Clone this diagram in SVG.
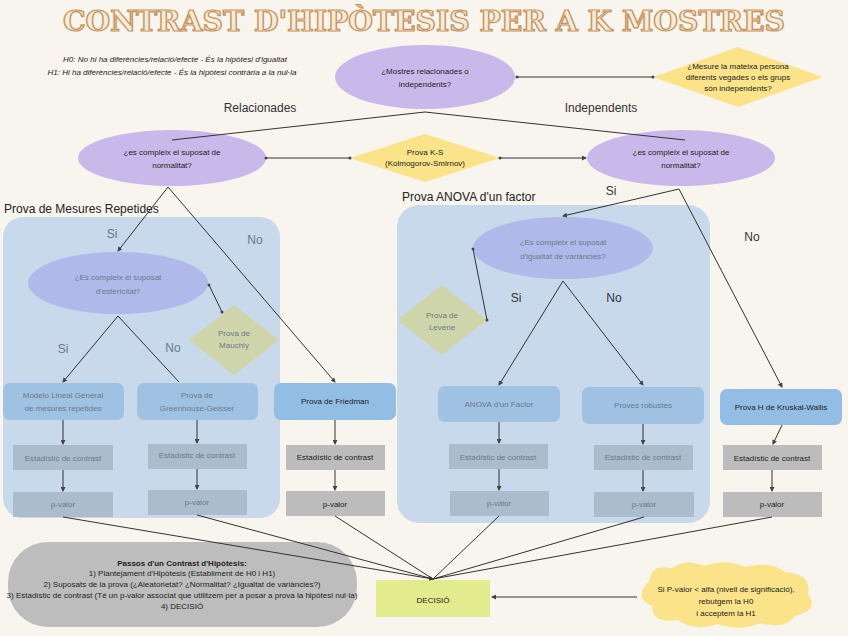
<svg xmlns="http://www.w3.org/2000/svg" width="848" height="636" viewBox="0 0 848 636">
<defs>
<marker id="ar" markerWidth="5" markerHeight="5" refX="4" refY="2.5" orient="auto"><path d="M0,0 L5,2.5 L0,5 z" fill="#444"/></marker>
<marker id="dot" markerWidth="4" markerHeight="4" refX="2" refY="2"><circle cx="2" cy="2" r="1.5" fill="#444"/></marker>
<style>
text{font-family:"Liberation Sans",Arial,sans-serif;text-anchor:middle}
.title{font-family:"DejaVu Serif Condensed","DejaVu Serif",serif}
.c line,.c path{stroke:#333;stroke-width:1;fill:none}
.s{font-size:8px;fill:#222}
.f{font-size:8px;fill:#6a7a8c}
.lab{font-size:12px;fill:#222;text-anchor:start}
.yn{font-size:12px;fill:#333}
.fyn{font-size:12px;fill:#6a7a8c}
.box{fill:#92bde4}
.fbox{fill:#9fc1e2}
.gray{fill:#bcbcbc}
.fgray{fill:#abbccc}
</style>
</defs>
<rect width="848" height="636" fill="#f8f4ee"/>
<text x="424" y="31" class="title" font-weight="bold" font-size="27" fill="#f3ecd8" stroke="#c9935b" stroke-width="1.2" textLength="722" lengthAdjust="spacingAndGlyphs">CONTRAST D'HIPÒTESIS PER A K MOSTRES</text>
<g id="hyp" font-style="italic"><text x="175" y="62" class="s" font-size="9">H0:  No hi ha diferències/relació/efecte - És la hipòtesi d'igualtat</text><text x="172" y="75" class="s" font-size="9">H1: Hi ha diferències/relació/efecte - És la hipòtesi contrària a la nul·la</text></g>
<rect x="3" y="217" width="277" height="301" rx="20" fill="#c7d9ea"/>
<rect x="397" y="205" width="313" height="318" rx="22" fill="#c7d9ea"/>
<text x="4" y="213" class="lab">Prova de Mesures Repetides</text>
<text x="402" y="201" class="lab">Prova ANOVA d'un factor</text>
<g id="q1"><ellipse cx="425" cy="77" rx="90" ry="32" fill="#c9b8ea"/><text x="425" y="74" class="s" font-size="9">¿Mostres relacionades o</text><text x="425" y="87" class="s" font-size="9">independents?</text></g>
<g id="d1"><polygon points="653,77 738,47 823,77 738,107" fill="#fbe38a"/><text x="738" y="69" class="s" font-size="7">¿Mesure la mateixa persona</text><text x="738" y="80" class="s" font-size="7">diferents vegades o els grups</text><text x="738" y="91" class="s" font-size="7">són independents?</text></g>
<g id="qL"><ellipse cx="172" cy="158" rx="94" ry="28" fill="#c9b8ea"/><text x="172" y="155" class="s" font-size="9">¿es compleix el suposat de</text><text x="172" y="168" class="s" font-size="9">normalitat?</text></g>
<g id="qR"><ellipse cx="681" cy="158" rx="94" ry="28" fill="#c9b8ea"/><text x="681" y="155" class="s" font-size="9">¿es compleix el suposat de</text><text x="681" y="168" class="s" font-size="9">normalitat?</text></g>
<g id="ks"><polygon points="350,158 425,134 500,158 425,182" fill="#fbe38a"/><text x="425" y="155" class="s" font-size="7">Prova K-S</text><text x="425" y="166" class="s" font-size="7">(Kolmogorov-Smirnov)</text></g>
<g id="esf"><ellipse cx="118" cy="283" rx="90" ry="31" fill="#b0b9e9"/><text x="118" y="280" class="f" font-size="9">¿Es compleix el suposat</text><text x="118" y="294" class="f" font-size="9">d'esfericitat?</text></g>
<g id="mau"><polygon points="189,340 234,305 279,340 234,375" fill="#cfd5ab"/><text x="234" y="336" class="f">Prova de</text><text x="234" y="348" class="f">Mauchly</text></g>
<g id="var"><ellipse cx="563" cy="248" rx="90" ry="31" fill="#b0b9e9"/><text x="563" y="245" class="f" font-size="9">¿Es compleix el suposat</text><text x="563" y="259" class="f" font-size="9">d'igualtat de variàncies?</text></g>
<g id="lev"><polygon points="397,320 442,285 487,320 442,355" fill="#cfd5ab"/><text x="442" y="318" class="f">Prova de</text><text x="442" y="330" class="f">Levene</text></g>
<g id="mlg"><rect x="3" y="383" width="121" height="37" rx="7" class="fbox"/><text x="63" y="398" class="f">Modelo Lineal General</text><text x="63" y="411" class="f">de mesures repetides</text></g>
<g id="gg"><rect x="137" y="383" width="121" height="37" rx="7" class="fbox"/><text x="197" y="398" class="f">Prova de</text><text x="197" y="411" class="f">Greenhouse-Geisser</text></g>
<g id="fr"><rect x="274" y="383" width="122" height="37" rx="7" class="box"/><text x="335" y="404" class="s">Prova de Friedman</text></g>
<g id="an"><rect x="438" y="386" width="122" height="36" rx="7" class="fbox"/><text x="499" y="407" class="f">ANOVA d'un Factor</text></g>
<g id="pr"><rect x="582" y="387" width="122" height="37" rx="7" class="fbox"/><text x="643" y="408" class="f">Proves robustes</text></g>
<g id="kw"><rect x="720" y="389" width="122" height="36" rx="7" class="box"/><text x="781" y="410" class="s">Prova H de Kruskal-Wallis</text></g>
<g id="e1"><rect x="13" y="445" width="100" height="25" class="fgray"/><text x="63" y="461" class="f">Estadístic de contrast</text></g>
<g id="e2"><rect x="148" y="444" width="99" height="25" class="fgray"/><text x="197" y="458" class="f">Estadístic de contrast</text></g>
<g id="e3"><rect x="286" y="445" width="99" height="25" class="gray"/><text x="335" y="460" class="s">Estadístic de contrast</text></g>
<g id="e4"><rect x="449" y="444" width="99" height="25" class="fgray"/><text x="498" y="460" class="f">Estadístic de contrast</text></g>
<g id="e5"><rect x="594" y="445" width="99" height="25" class="fgray"/><text x="643" y="460" class="f">Estadístic de contrast</text></g>
<g id="e6"><rect x="723" y="445" width="99" height="25" class="gray"/><text x="772" y="461" class="s">Estadístic de contrast</text></g>
<g id="p1"><rect x="13" y="492" width="100" height="25" class="fgray"/><text x="63" y="507" class="f">p-valor</text></g>
<g id="p2"><rect x="148" y="490" width="99" height="25" class="fgray"/><text x="197" y="505" class="f">p-valor</text></g>
<g id="p3"><rect x="286" y="491" width="99" height="25" class="gray"/><text x="335" y="507" class="s">p-valor</text></g>
<g id="p4"><rect x="450" y="491" width="99" height="25" class="fgray"/><text x="499" y="506" class="f">p-valor</text></g>
<g id="p5"><rect x="594" y="492" width="100" height="25" class="fgray"/><text x="644" y="507" class="f">p-valor</text></g>
<g id="p6"><rect x="723" y="492" width="99" height="25" class="gray"/><text x="772" y="507" class="s">p-valor</text></g>
<g id="steps"><rect x="8" y="542" width="349" height="85" rx="40" fill="#bdbdbd"/>
<text x="182" y="566" class="s" font-size="7" font-weight="bold">Passos d'un Contrast d'Hipòtesis:</text>
<text x="182" y="576" class="s" font-size="7">1) Plantejament d'Hipòtesis (Establiment de H0 i H1)</text>
<text x="182" y="587" class="s" font-size="7">2) Suposats de la prova (¿Aleatorietat? ¿Normalitat? ¿Igualtat de variàncies?)</text>
<text x="182" y="598" class="s" font-size="7">3) Estadístic de contrast (Té un p-valor associat que utilitzem per a posar a prova la  hipòtesi nul·la)</text>
<text x="182" y="609" class="s" font-size="7">4) DECISIÓ</text></g>
<g id="dec"><rect x="376" y="580" width="114" height="37" fill="#e2ec8e"/><text x="433" y="603" class="s" font-size="10">DECISIÓ</text></g>
<g id="cloud"><path d="M650,580 Q650,565 672,568 Q685,558 705,566 Q725,558 745,567 Q770,560 785,572 Q812,574 808,594 Q820,610 795,616 Q785,630 760,623 Q740,632 718,624 Q695,632 678,620 Q652,624 652,606 Q632,598 650,580 z" fill="#fbe38a"/>
<text x="726" y="592" class="s" font-size="7.5">Si P-valor &lt; alfa (nivell de significació),</text><text x="726" y="604" class="s" font-size="7.5">rebutgem la H0</text><text x="726" y="616" class="s" font-size="7.5">i acceptem la H1</text></g>
<g class="c" id="connectors">
<line x1="517" y1="77" x2="653" y2="77" marker-start="url(#dot)" marker-end="url(#dot)"/>
<path d="M172,140 L425,112 L685,140"/>
<line x1="266" y1="158" x2="350" y2="158" marker-start="url(#dot)" marker-end="url(#dot)"/>
<line x1="500" y1="158" x2="586" y2="158" marker-start="url(#dot)" marker-end="url(#ar)"/>
<line x1="168" y1="187" x2="118" y2="251" marker-end="url(#ar)"/>
<line x1="168" y1="187" x2="335" y2="382" marker-end="url(#ar)"/>
<line x1="209" y1="285" x2="222" y2="312" marker-start="url(#dot)" marker-end="url(#dot)"/>
<line x1="118" y1="316" x2="63" y2="382" marker-end="url(#ar)"/>
<line x1="118" y1="316" x2="179" y2="382"/>
<line x1="679" y1="189" x2="563" y2="216" marker-end="url(#ar)"/>
<line x1="679" y1="189" x2="782" y2="387" marker-end="url(#ar)"/>
<line x1="473" y1="249" x2="487" y2="320" marker-start="url(#dot)" marker-end="url(#dot)"/>
<line x1="563" y1="281" x2="499" y2="385" marker-end="url(#ar)"/>
<line x1="563" y1="281" x2="643" y2="385" marker-end="url(#ar)"/>
<line x1="63" y1="420" x2="63" y2="444" marker-end="url(#ar)"/>
<line x1="197" y1="420" x2="197" y2="443" marker-end="url(#ar)"/>
<line x1="335" y1="420" x2="335" y2="444" marker-end="url(#ar)"/>
<line x1="499" y1="422" x2="499" y2="443" marker-end="url(#ar)"/>
<line x1="643" y1="424" x2="643" y2="444" marker-end="url(#ar)"/>
<line x1="782" y1="425" x2="773" y2="444" marker-end="url(#ar)"/>
<line x1="63" y1="470" x2="63" y2="491" marker-end="url(#ar)"/>
<line x1="197" y1="469" x2="197" y2="489" marker-end="url(#ar)"/>
<line x1="335" y1="470" x2="335" y2="490" marker-end="url(#ar)"/>
<line x1="499" y1="469" x2="499" y2="490" marker-end="url(#ar)"/>
<line x1="643" y1="470" x2="643" y2="491" marker-end="url(#ar)"/>
<line x1="772" y1="470" x2="772" y2="491" marker-end="url(#ar)"/>
<line x1="63" y1="517" x2="433" y2="579" marker-end="url(#ar)"/>
<line x1="197" y1="515" x2="433" y2="579"/>
<line x1="335" y1="516" x2="433" y2="579"/>
<line x1="499" y1="516" x2="433" y2="579"/>
<line x1="644" y1="517" x2="433" y2="579"/>
<line x1="772" y1="517" x2="433" y2="579"/>
<line x1="637" y1="597" x2="492" y2="597" marker-end="url(#ar)"/>
</g>
<g id="labels">
<text x="260" y="112" class="yn">Relacionades</text><text x="601" y="112" class="yn">Independents</text>
<text x="112" y="238" class="fyn">Si</text><text x="255" y="244" class="fyn">No</text>
<text x="63" y="353" class="fyn">Si</text><text x="173" y="352" class="fyn">No</text>
<text x="611" y="195" class="yn">Si</text><text x="752" y="241" class="yn">No</text>
<text x="516" y="302" class="yn">Si</text><text x="614" y="302" class="yn">No</text>
</g>
</svg>
